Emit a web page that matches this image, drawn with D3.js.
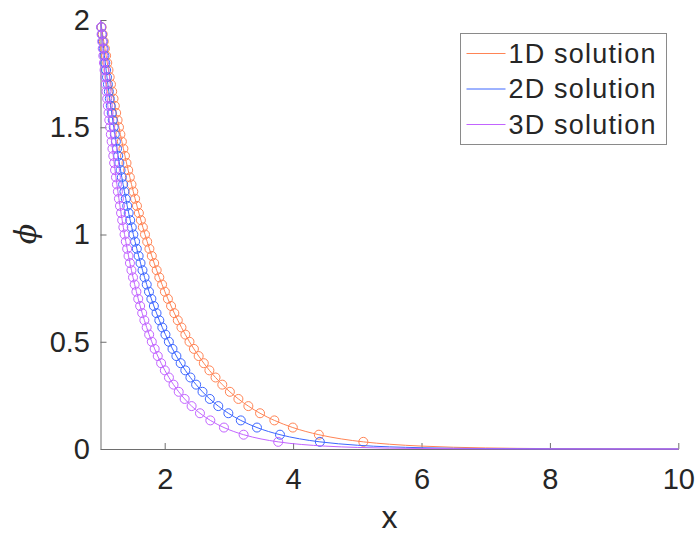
<!DOCTYPE html>
<html>
<head>
<meta charset="utf-8">
<script src="https://cdn.jsdelivr.net/npm/d3@7"></script>
<style>
  body { margin: 0; background: #fff; }
  svg { display: block; }
</style>
</head>
<body>
<div id="chart"></div>
<script>
const width = 697
const height = 534
const margin = { left: 100.5, right: 697 - 678.3, top: 20, bottom: 534 - 449 }

// phi levels of the numerical markers (same for all three series)
const phi_levels = [1.96667, 1.93333, 1.9, 1.86667, 1.83333, 1.8, 1.76667, 1.73333, 1.7, 1.66667,
                    1.63333, 1.6, 1.56667, 1.53333, 1.5, 1.46667, 1.43333, 1.4, 1.36667, 1.33333,
                    1.3, 1.26667, 1.23333, 1.2, 1.16667, 1.13333, 1.1, 1.06667, 1.03333, 1.0,
                    0.96667, 0.93333, 0.9, 0.86667, 0.83333, 0.8, 0.76667, 0.73333, 0.7, 0.66667,
                    0.63333, 0.6, 0.56667, 0.53333, 0.5, 0.46667, 0.43333, 0.4, 0.36667, 0.33333,
                    0.3, 0.26667, 0.23333, 0.2, 0.16667, 0.13333, 0.1, 0.06667, 0.03333]

// x positions of the markers
const x_1d = [1.017, 1.034, 1.051, 1.069, 1.087, 1.105, 1.124, 1.143, 1.163, 1.182,
              1.203, 1.223, 1.244, 1.266, 1.288, 1.310, 1.333, 1.357, 1.381, 1.405,
              1.431, 1.457, 1.483, 1.511, 1.539, 1.568, 1.598, 1.629, 1.660, 1.693,
              1.727, 1.762, 1.799, 1.836, 1.875, 1.916, 1.959, 2.003, 2.050, 2.099,
              2.150, 2.204, 2.261, 2.322, 2.386, 2.455, 2.529, 2.609, 2.696, 2.792,
              2.897, 3.015, 3.148, 3.303, 3.485, 3.708, 3.996, 4.401, 5.094]
const x_2d = [1.0118, 1.0238, 1.0361, 1.0486, 1.0614, 1.0745, 1.0878, 1.1015, 1.1155, 1.1299,
              1.1445, 1.1595, 1.1747, 1.1903, 1.2064, 1.2230, 1.2400, 1.2574, 1.2753, 1.2936,
              1.3125, 1.3321, 1.3522, 1.3728, 1.3940, 1.4161, 1.4389, 1.4625, 1.4868, 1.5120,
              1.5384, 1.5656, 1.5938, 1.6234, 1.6542, 1.6863, 1.7200, 1.7553, 1.7923, 1.8314,
              1.8726, 1.9161, 1.9625, 2.0118, 2.0647, 2.1214, 2.1822, 2.2486, 2.3212, 2.4006,
              2.4895, 2.5889, 2.7026, 2.8344, 2.9915, 3.1852, 3.4372, 3.7957, 4.4168]
const x_3d = [1.0084, 1.0170, 1.0258, 1.0348, 1.0440, 1.0534, 1.0630, 1.0728, 1.0829, 1.0932,
              1.1038, 1.1146, 1.1258, 1.1372, 1.1489, 1.1609, 1.1733, 1.1861, 1.1992, 1.2127,
              1.2266, 1.2409, 1.2557, 1.2710, 1.2868, 1.3032, 1.3201, 1.3377, 1.3559, 1.3748,
              1.3945, 1.4150, 1.4364, 1.4587, 1.4821, 1.5065, 1.5322, 1.5592, 1.5876, 1.6176,
              1.6495, 1.6833, 1.7193, 1.7577, 1.7990, 1.8436, 1.8918, 1.9445, 2.0022, 2.0661,
              2.1375, 2.2182, 2.3108, 2.4192, 2.5492, 2.7108, 2.9231, 3.2290, 3.7678]

// extra points of the solid lines (start and tail out to x = 10)
const line_1d_x = [1, 4.75, 5.5, 6, 7, 8, 9, 10]
const line_1d_phi = [2, 0.04704, 0.02222, 0.01348, 0.00496, 0.00182, 0.00067, 0.00025]
const line_2d_x = [1, 4.1, 5, 6, 7, 8, 9, 10]
const line_2d_phi = [2, 0.04742, 0.01753, 0.00591, 0.00202, 0.00070, 0.00024, 0.00008]
const line_3d_x = [1, 3.5, 4.5, 5, 6, 7, 8, 9, 10]
const line_3d_phi = [2, 0.04691, 0.01342, 0.00733, 0.00225, 0.00071, 0.00023, 0.00007, 0.00002]

const series_names = ['1D solution', '2D solution', '3D solution']
const series_colors = ['#ff8455', '#3d66ff', '#c264ff']

const x_ticks = [2, 4, 6, 8, 10]
const x_tick_labels = ['2', '4', '6', '8', '10']
const y_ticks = [0, 0.5, 1, 1.5, 2]
const y_tick_labels = ['0', '0.5', '1', '1.5', '2']

const font = "'Liberation Sans', Arial, Helvetica, sans-serif"
const text_color = '#262626'
const axis_color = '#6e6e6e'

const svg = d3.select('#chart')
    .append('svg')
    .attr('width', width)
    .attr('height', height)

const x = d3.scaleLinear().domain([1, 10]).range([margin.left, width - margin.right])
const y = d3.scaleLinear().domain([0, 2]).range([height - margin.bottom, margin.top])

// axes
const x_axis = d3.axisBottom(x)
    .tickValues(x_ticks)
    .tickFormat((d, i) => x_tick_labels[i])
    .tickSizeInner(-6)
    .tickSizeOuter(0)
    .tickPadding(19)
const y_axis = d3.axisLeft(y)
    .tickValues(y_ticks)
    .tickFormat((d, i) => y_tick_labels[i])
    .tickSizeInner(-6)
    .tickSizeOuter(0)
    .tickPadding(10.5)

const gx = svg.append('g')
    .attr('transform', `translate(0,${y(0)})`)
    .call(x_axis)
const gy = svg.append('g')
    .attr('transform', `translate(${x(1)},0)`)
    .call(y_axis)

for (const g of [gx, gy]) {
    g.select('.domain').attr('stroke', axis_color)
    g.selectAll('.tick line').attr('stroke', axis_color)
    g.selectAll('.tick text')
        .attr('fill', text_color)
        .style('font-family', font)
        .style('font-size', '29px')
}

// axis labels
svg.append('text')
    .attr('x', (x(1) + x(10)) / 2)
    .attr('y', 528)
    .attr('text-anchor', 'middle')
    .attr('fill', text_color)
    .style('font-family', font)
    .style('font-size', '32px')
    .text('x')

svg.append('text')
    .attr('transform', 'translate(36,234) rotate(-90)')
    .attr('text-anchor', 'middle')
    .attr('fill', text_color)
    .style('font-family', "'DejaVu Serif', serif")
    .style('font-style', 'italic')
    .style('font-size', '30px')
    .text('ϕ')

// series
const marker_x = [x_1d, x_2d, x_3d]
const extra_x = [line_1d_x, line_2d_x, line_3d_x]
const extra_phi = [line_1d_phi, line_2d_phi, line_3d_phi]

const line_generator = d3.line()
    .x(d => x(d.x))
    .y(d => y(d.phi))
    .curve(d3.curveMonotoneX)

marker_x.forEach((xs, s) => {
    const markers = xs.map((v, i) => ({ x: v, phi: phi_levels[i] }))
    const extra = extra_x[s].map((v, i) => ({ x: v, phi: extra_phi[s][i] }))
    const line_points = d3.sort(markers.concat(extra), d => d.x)

    svg.append('path')
        .attr('d', line_generator(line_points))
        .attr('stroke', series_colors[s])
        .attr('stroke-width', 1)
        .attr('fill', 'none')

    svg.append('g')
        .selectAll('circle')
        .data(markers)
        .enter()
        .append('circle')
        .attr('cx', d => x(d.x))
        .attr('cy', d => y(d.phi))
        .attr('r', 4.5)
        .attr('stroke', series_colors[s])
        .attr('stroke-width', 1)
        .attr('fill', 'none')
})

// legend
const legend = svg.append('g').attr('transform', 'translate(460.5,33.5)')
legend.append('rect')
    .attr('width', 206)
    .attr('height', 111)
    .attr('fill', '#fff')
    .attr('stroke', '#8a8a8a')
    .attr('stroke-width', 1)

series_names.forEach((name, i) => {
    const yy = 20 + i * 35.5
    legend.append('line')
        .attr('x1', 6)
        .attr('x2', 45)
        .attr('y1', yy)
        .attr('y2', yy)
        .attr('stroke', series_colors[i])
        .attr('stroke-width', 1)
    legend.append('text')
        .attr('x', 48)
        .attr('y', yy)
        .attr('dy', '0.35em')
        .attr('fill', text_color)
        .style('font-family', font)
        .style('font-size', '27px')
        .attr('textLength', 147)
        .text(name)
})
</script>
</body>
</html>
